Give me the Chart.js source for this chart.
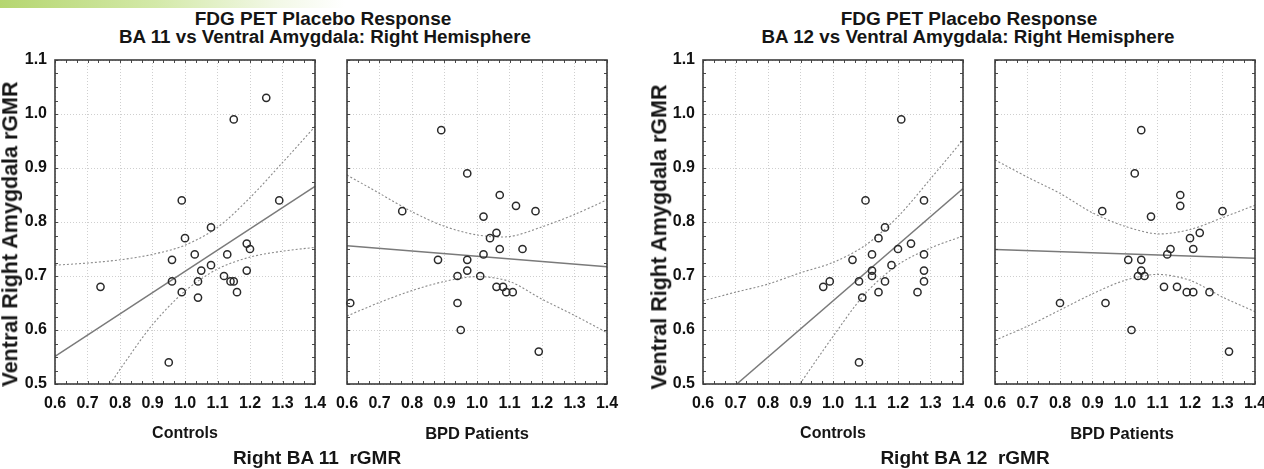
<!DOCTYPE html>
<html><head><meta charset="utf-8">
<script src="https://cdn.jsdelivr.net/npm/chart.js@4.4.0/dist/chart.umd.min.js"></script>
<style>
html,body{margin:0;padding:0;background:#fff;width:1264px;height:469px;overflow:hidden;position:relative;font-family:"Liberation Sans",Arial,sans-serif;}
.t{position:absolute;font-weight:bold;color:#151515;white-space:pre;transform:translate(-50%,-50%);line-height:1;}
.yt{position:absolute;font-weight:bold;color:#151515;white-space:pre;line-height:1;transform:translate(-50%,-50%) rotate(-90deg);}
canvas{position:absolute;}
.bar{position:absolute;left:0;top:0;width:345px;height:8px;background:linear-gradient(to right,#b5d670,#d3e9a8 45%,#f2f8e6 80%,#fff);}
</style></head><body>
<div class="bar"></div>
<canvas id="c1" width="330" height="375" style="left:0;top:50px"></canvas>
<canvas id="c2" width="290" height="375" style="left:330px;top:50px"></canvas>
<canvas id="c3" width="335" height="375" style="left:640px;top:50px"></canvas>
<canvas id="c4" width="300" height="375" style="left:975px;top:50px"></canvas>

<div class="t" style="left:323px;top:18px;font-size:19px">FDG PET Placebo Response</div>
<div class="t" style="left:325px;top:37px;font-size:18.8px">BA 11 vs Ventral Amygdala: Right Hemisphere</div>
<div class="t" style="left:969px;top:18px;font-size:19px">FDG PET Placebo Response</div>
<div class="t" style="left:968px;top:37px;font-size:18.8px">BA 12 vs Ventral Amygdala: Right Hemisphere</div>
<div class="yt" style="left:11px;top:234px;font-size:21.5px">Ventral Right Amygdala rGMR</div>
<div class="yt" style="left:660px;top:237px;font-size:21.5px">Ventral Right Amygdala rGMR</div>
<div class="t" style="left:185px;top:433px;font-size:16px">Controls</div>
<div class="t" style="left:477px;top:433px;font-size:16.5px">BPD Patients</div>
<div class="t" style="left:317px;top:457px;font-size:19px">Right BA 11  rGMR</div>
<div class="t" style="left:833px;top:433px;font-size:16px">Controls</div>
<div class="t" style="left:1122px;top:433px;font-size:16.5px">BPD Patients</div>
<div class="t" style="left:965px;top:457px;font-size:19px">Right BA 12  rGMR</div>

<script>
// ---------- tick values ----------
const xTicks = [0.6, 0.7, 0.8, 0.9, 1.0, 1.1, 1.2, 1.3, 1.4];
const yTicks = [0.5, 0.6, 0.7, 0.8, 0.9, 1.0, 1.1];

// ---------- Panel 1: BA 11, Controls ----------
const p1X = [1.25, 1.15, 0.99, 1.29, 1.08, 1.00, 1.03, 0.96, 1.13, 1.19, 1.20, 1.08, 1.05, 1.19, 1.12, 0.96, 1.04, 1.14, 1.15, 0.74, 0.99, 1.16, 1.04, 0.95];
const p1Y = [1.03, 0.99, 0.84, 0.84, 0.79, 0.77, 0.74, 0.73, 0.74, 0.76, 0.75, 0.72, 0.71, 0.71, 0.70, 0.69, 0.69, 0.69, 0.69, 0.68, 0.67, 0.67, 0.66, 0.54];
const p1FitX = [0.6, 1.4];
const p1FitY = [0.551, 0.866];
const p1UpX = [0.6, 0.7, 0.8, 0.9, 1.0, 1.1, 1.2, 1.3, 1.4];
const p1UpY = [0.720, 0.724, 0.730, 0.740, 0.757, 0.790, 0.845, 0.910, 0.977];
const p1LoX = [0.77, 0.8, 0.9, 1.0, 1.1, 1.2, 1.3, 1.4];
const p1LoY = [0.500, 0.527, 0.610, 0.672, 0.713, 0.735, 0.746, 0.753];

// ---------- Panel 2: BA 11, BPD Patients ----------
const p2X = [0.89, 0.97, 1.07, 1.12, 1.18, 0.77, 1.02, 1.06, 1.04, 1.07, 1.14, 1.02, 0.88, 0.97, 0.97, 0.94, 1.01, 1.06, 1.08, 1.09, 1.11, 0.61, 0.94, 0.95, 1.19];
const p2Y = [0.97, 0.89, 0.85, 0.83, 0.82, 0.82, 0.81, 0.78, 0.77, 0.75, 0.75, 0.74, 0.73, 0.73, 0.71, 0.70, 0.70, 0.68, 0.68, 0.67, 0.67, 0.65, 0.65, 0.60, 0.56];
const p2FitX = [0.6, 1.4];
const p2FitY = [0.756, 0.717];
const p2UpX = [0.6, 0.7, 0.8, 0.9, 1.0, 1.1, 1.2, 1.3, 1.4];
const p2UpY = [0.887, 0.853, 0.819, 0.792, 0.776, 0.773, 0.791, 0.814, 0.841];
const p2LoX = [0.6, 0.7, 0.8, 0.9, 1.0, 1.1, 1.2, 1.3, 1.4];
const p2LoY = [0.626, 0.651, 0.673, 0.690, 0.699, 0.690, 0.657, 0.627, 0.595];

// ---------- Panel 3: BA 12, Controls ----------
const p3X = [1.21, 1.10, 1.28, 1.16, 1.14, 1.24, 1.20, 1.12, 1.28, 1.06, 1.18, 1.12, 1.28, 1.12, 0.99, 0.97, 1.08, 1.16, 1.28, 1.14, 1.26, 1.09, 1.08];
const p3Y = [0.99, 0.84, 0.84, 0.79, 0.77, 0.76, 0.75, 0.74, 0.74, 0.73, 0.72, 0.71, 0.71, 0.70, 0.69, 0.68, 0.69, 0.69, 0.69, 0.67, 0.67, 0.66, 0.54];
const p3FitX = [0.704, 1.4];
const p3FitY = [0.500, 0.862];
const p3UpX = [0.6, 0.7, 0.8, 0.9, 1.0, 1.1, 1.2, 1.3, 1.4];
const p3UpY = [0.654, 0.670, 0.685, 0.706, 0.725, 0.757, 0.810, 0.880, 0.952];
const p3LoX = [0.898, 1.0, 1.1, 1.2, 1.3, 1.4];
const p3LoY = [0.500, 0.588, 0.668, 0.721, 0.752, 0.774];

// ---------- Panel 4: BA 12, BPD Patients ----------
const p4X = [1.05, 1.03, 1.17, 1.17, 0.93, 1.30, 1.08, 1.23, 1.20, 1.21, 1.14, 1.13, 1.01, 1.05, 1.05, 1.04, 1.06, 1.12, 1.16, 1.19, 1.21, 1.26, 0.80, 0.94, 1.02, 1.32];
const p4Y = [0.97, 0.89, 0.85, 0.83, 0.82, 0.82, 0.81, 0.78, 0.77, 0.75, 0.75, 0.74, 0.73, 0.73, 0.71, 0.70, 0.70, 0.68, 0.68, 0.67, 0.67, 0.67, 0.65, 0.65, 0.60, 0.56];
const p4FitX = [0.6, 1.4];
const p4FitY = [0.749, 0.733];
const p4UpX = [0.6, 0.7, 0.8, 0.9, 1.0, 1.1, 1.2, 1.3, 1.4];
const p4UpY = [0.915, 0.883, 0.853, 0.817, 0.792, 0.778, 0.786, 0.808, 0.831];
const p4LoX = [0.6, 0.7, 0.8, 0.9, 1.0, 1.1, 1.2, 1.3, 1.4];
const p4LoY = [0.581, 0.607, 0.637, 0.667, 0.692, 0.703, 0.692, 0.661, 0.634];

// ---------- helpers ----------
const pts = (xs, ys) => xs.map((x, i) => ({x: x, y: ys[i]}));
const tickFont = {family: "'Liberation Sans', Arial, sans-serif", size: 16, weight: 'bold'};

const framePlugin = {
  id: 'frame',
  afterDraw(chart) {
    const {ctx, chartArea: a, scales} = chart;
    const xs = scales.x, ys = scales.y;
    ctx.save();
    ctx.strokeStyle = '#4a4a4a';
    ctx.lineWidth = 1;
    ctx.beginPath();
    for (let k = 0; k <= 24; k++) {
      const px = Math.round(xs.getPixelForValue(0.6 + k * 0.1 / 3)) + 0.5;
      ctx.moveTo(px, a.top); ctx.lineTo(px, a.top + 3);
      ctx.moveTo(px, a.bottom); ctx.lineTo(px, a.bottom - 3);
    }
    for (let k = 0; k <= 24; k++) {
      const py = Math.round(ys.getPixelForValue(0.5 + k * 0.025)) + 0.5;
      ctx.moveTo(a.left, py); ctx.lineTo(a.left + 3, py);
      ctx.moveTo(a.right, py); ctx.lineTo(a.right - 3, py);
    }
    ctx.stroke();
    ctx.lineWidth = 1.6;
    ctx.strokeStyle = '#3c3c3c';
    ctx.strokeRect(a.left, a.top, a.right - a.left, a.bottom - a.top);
    ctx.restore();
  }
};

const noPad = s => { s.paddingLeft = 0; s.paddingRight = 0; s.paddingTop = 0; s.paddingBottom = 0; };

function makePanel(id, opt) {
  const ds = [
    {label: 'obs', data: pts(opt.x, opt.y), showLine: false, pointRadius: 3.6, pointHoverRadius: 3.6,
     pointBorderWidth: 1.5, pointBorderColor: '#2a2a2a', pointBackgroundColor: 'rgba(0,0,0,0)', clip: false, order: 0},
    {label: 'fit', data: pts(opt.fx, opt.fy), showLine: true, pointRadius: 0, borderColor: '#7a7a7a', borderWidth: 1.5, order: 1},
    {label: 'up', data: pts(opt.ux, opt.uy), showLine: true, pointRadius: 0, borderColor: '#8a8a8a', borderWidth: 1.1, borderDash: [2, 2], tension: 0.3, order: 1},
    {label: 'lo', data: pts(opt.lx, opt.ly), showLine: true, pointRadius: 0, borderColor: '#8a8a8a', borderWidth: 1.1, borderDash: [2, 2], tension: 0.3, order: 1}
  ];
  new Chart(document.getElementById(id), {
    type: 'scatter',
    data: {datasets: ds},
    options: {
      responsive: false, animation: false, devicePixelRatio: 1,
      layout: {padding: {top: 10, right: opt.padR, left: 0, bottom: 0}},
      plugins: {legend: {display: false}, tooltip: {enabled: false}},
      scales: {
        x: {
          type: 'linear', min: 0.6, max: 1.4,
          afterBuildTicks: s => { s.ticks = xTicks.map(v => ({value: v})); },
          afterFit: s => { s.height = 41; noPad(s); },
          ticks: {font: tickFont, color: '#111', padding: 10, maxRotation: 0, autoSkip: false,
                  callback: v => Number(v).toFixed(1)},
          grid: {color: '#cfcfcf', lineWidth: 1, drawTicks: false},
          border: {display: false, dash: [1, 2]}
        },
        y: {
          type: 'linear', min: 0.5, max: 1.1,
          afterBuildTicks: s => { s.ticks = yTicks.map(v => ({value: v})); },
          afterFit: s => { s.width = opt.yw; noPad(s); },
          ticks: {display: opt.yLabels, font: tickFont, color: '#111', padding: 8,
                  callback: v => Number(v).toFixed(1)},
          grid: {color: '#cfcfcf', lineWidth: 1, drawTicks: false},
          border: {display: false, dash: [1, 2]}
        }
      }
    },
    plugins: [framePlugin]
  });
}

makePanel('c1', {x: p1X, y: p1Y, fx: p1FitX, fy: p1FitY, ux: p1UpX, uy: p1UpY, lx: p1LoX, ly: p1LoY, yw: 55, padR: 15, yLabels: true});
makePanel('c2', {x: p2X, y: p2Y, fx: p2FitX, fy: p2FitY, ux: p2UpX, uy: p2UpY, lx: p2LoX, ly: p2LoY, yw: 17, padR: 13, yLabels: false});
makePanel('c3', {x: p3X, y: p3Y, fx: p3FitX, fy: p3FitY, ux: p3UpX, uy: p3UpY, lx: p3LoX, ly: p3LoY, yw: 63, padR: 12, yLabels: true});
makePanel('c4', {x: p4X, y: p4Y, fx: p4FitX, fy: p4FitY, ux: p4UpX, uy: p4UpY, lx: p4LoX, ly: p4LoY, yw: 20, padR: 20, yLabels: false});
</script>
</body></html>
